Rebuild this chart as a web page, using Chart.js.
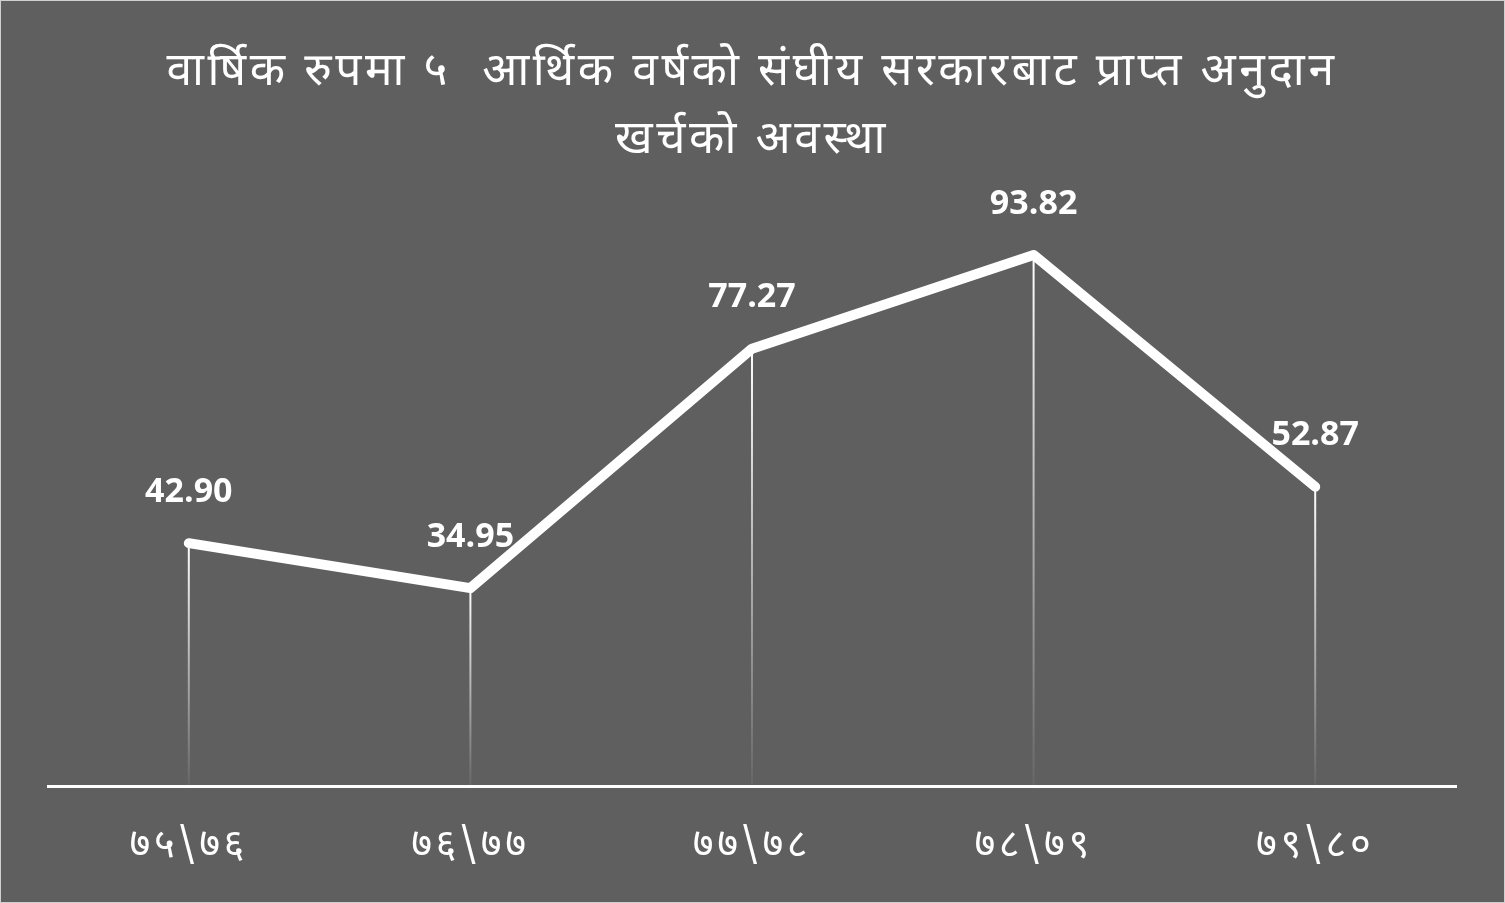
<!DOCTYPE html>
<html>
<head>
<meta charset="utf-8">
<script src="https://cdn.jsdelivr.net/npm/chart.js@4/dist/chart.umd.min.js"></script>
<style>
  html, body { margin: 0; padding: 0; background: #5f5f5f; }
  #wrap { width: 1505px; height: 903px; position: relative; }
  #frame { position: absolute; left: 0; top: 0; width: 1505px; height: 903px; box-sizing: border-box; border: 1px solid #d0d0d0; pointer-events: none; }
  canvas { display: block; }
</style>
</head>
<body>
<div id="wrap">
  <canvas id="chart" width="1505" height="903"></canvas>
  <div id="frame"></div>
</div>
<script>
// data
const years = ['७५\\७६', '७६\\७७', '७७\\७८', '७८\\७९', '७९\\८०'];
const spending = [42.90, 34.95, 77.27, 93.82, 52.87];
const titleLines = ['वार्षिक रुपमा ५  आर्थिक वर्षको संघीय सरकारबाट प्राप्त अनुदान', 'खर्चको अवस्था'];

const devaFont = '"Noto Sans Devanagari", "Lohit Devanagari", "Noto Sans", sans-serif';

// the original font is spaced out, so widen title and tick text a bit
const spacing = {
  id: 'spacing',
  beforeDraw(chart) {
    chart.ctx.letterSpacing = '3.6px';
  },
  afterLayout(chart) {
    const xs = chart.scales.x;
    if (xs._spaced) return;
    const draw = xs.draw.bind(xs);
    xs.draw = (area) => {
      chart.ctx.save();
      chart.ctx.letterSpacing = '9px';
      draw(area);
      chart.ctx.restore();
    };
    xs._spaced = true;
  }
};

// vertical drop lines + value labels
const dropLines = {
  id: 'dropLines',
  beforeDatasetsDraw(chart) {
    const ctx = chart.ctx;
    const bottom = chart.chartArea.bottom;
    chart.getDatasetMeta(0).data.forEach(pt => {
      const g = ctx.createLinearGradient(0, pt.y, 0, bottom);
      g.addColorStop(0, 'rgba(255,255,255,1)');
      g.addColorStop(1, 'rgba(255,255,255,0.05)');
      ctx.save();
      ctx.strokeStyle = g;
      ctx.lineWidth = 2;
      ctx.beginPath();
      ctx.moveTo(pt.x, pt.y);
      ctx.lineTo(pt.x, bottom);
      ctx.stroke();
      ctx.restore();
    });
  },
  afterDatasetsDraw(chart) {
    const ctx = chart.ctx;
    const ds = chart.data.datasets[0];
    ctx.save();
    ctx.letterSpacing = '0px';
    ctx.fillStyle = '#ffffff';
    ctx.font = 'bold 34px "Open Sans"';
    ctx.textAlign = 'center';
    ctx.textBaseline = 'middle';
    chart.getDatasetMeta(0).data.forEach((pt, i) => {
      ctx.fillText(ds.data[i].toFixed(2), pt.x, pt.y - 51);
    });
    ctx.restore();
  }
};

new Chart(document.getElementById('chart'), {
  type: 'line',
  data: {
    labels: years,
    datasets: [{
      data: spending,
      borderColor: '#ffffff',
      borderWidth: 10,
      borderCapStyle: 'round',
      borderJoinStyle: 'round',
      pointRadius: 0,
      tension: 0
    }]
  },
  options: {
    responsive: false,
    animation: false,
    layout: { padding: { left: 48, right: 49, top: 0, bottom: 0 } },
    plugins: {
      legend: { display: false },
      tooltip: { enabled: false },
      title: {
        display: true,
        text: titleLines,
        color: '#ffffff',
        font: { family: devaFont, size: 46, weight: 'normal', lineHeight: '68px' },
        padding: { top: 42, bottom: 42 }
      }
    },
    scales: {
      x: {
        offset: true,
        grid: { display: false, drawTicks: false },
        border: { display: true, color: '#ffffff', width: 3 },
        ticks: { color: '#ffffff', padding: 40, font: { family: devaFont, size: 40, lineHeight: 1.2 } },
        afterFit(scale) { scale.height = 117; }
      },
      y: {
        display: false,
        min: 0,
        max: 100
      }
    }
  },
  plugins: [spacing, dropLines]
});
</script>
</body>
</html>
